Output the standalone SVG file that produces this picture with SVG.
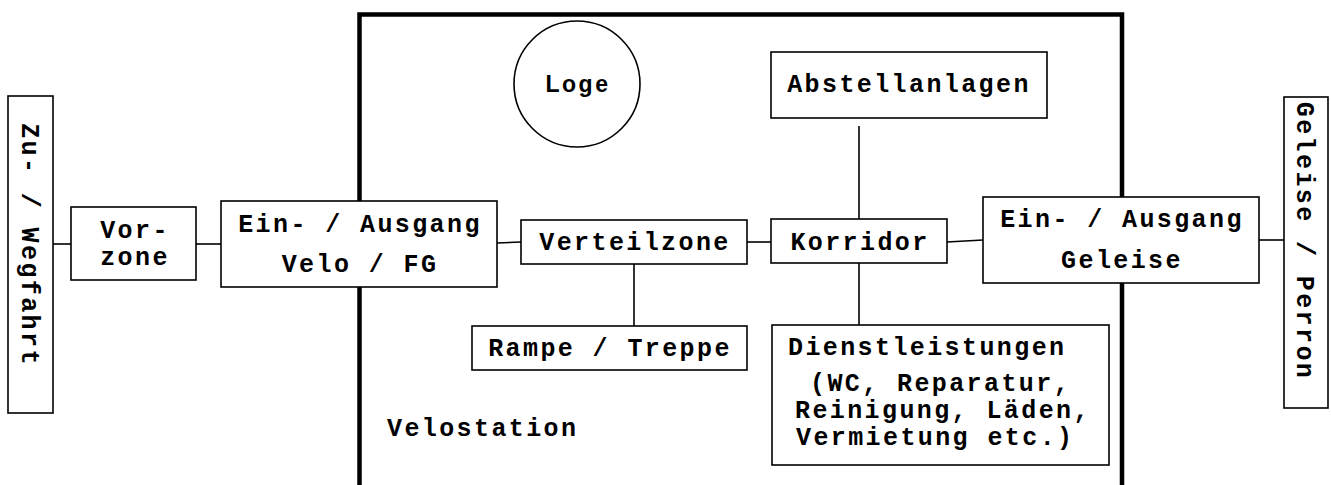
<svg xmlns="http://www.w3.org/2000/svg" width="1331" height="485" viewBox="0 0 1331 485">
<style>
.box{fill:#fff;stroke:#000;stroke-width:1.6}
.ln{fill:none;stroke:#000;stroke-width:1.6}
.t{font-family:"Liberation Mono","DejaVu Sans Mono",monospace;font-weight:bold;font-size:25px;letter-spacing:2.4px;fill:#000}
.c{text-anchor:middle}
</style>
<rect width="1331" height="485" fill="#fff"/>
<g id="frame">
<path d="M359.5,485 V14.5 H1122 V485" fill="none" stroke="#000" stroke-width="4.5"/>
</g>
<g id="connectors">
<line class="ln" x1="53" y1="244" x2="71" y2="244"/>
<line class="ln" x1="196" y1="244" x2="221" y2="244"/>
<line class="ln" x1="497" y1="243" x2="521" y2="242"/>
<line class="ln" x1="747" y1="242" x2="771" y2="242"/>
<line class="ln" x1="947" y1="242" x2="983" y2="240"/>
<line class="ln" x1="1259" y1="240" x2="1284" y2="240"/>
<line class="ln" x1="634" y1="264" x2="634" y2="326"/>
<line class="ln" x1="859" y1="126" x2="859" y2="219"/>
<line class="ln" x1="859" y1="263" x2="859" y2="325"/>
</g>
<g id="zuwegfahrt">
<rect class="box" x="8" y="96" width="45" height="317"/>
<text class="t c" transform="translate(22,245) rotate(90)">Zu- / Wegfahrt</text>
</g>
<g id="vorzone">
<rect class="box" x="71" y="207" width="125" height="73"/>
<text class="t c" x="135" y="238">Vor-</text>
<text class="t c" x="135" y="265">zone</text>
</g>
<g id="eingang-velo">
<rect class="box" x="221" y="201" width="276" height="86"/>
<text class="t c" x="360" y="232">Ein- / Ausgang</text>
<text class="t c" x="360" y="272">Velo / FG</text>
</g>
<g id="loge">
<circle cx="577" cy="84" r="63" fill="#fff" stroke="#000" stroke-width="1.6"/>
<text x="578" y="92" text-anchor="middle" font-family="Liberation Sans, Arial, sans-serif" font-weight="bold" font-size="23" letter-spacing="2.5">Loge</text>
</g>
<g id="verteilzone">
<rect class="box" x="521" y="220" width="226" height="44"/>
<text class="t c" x="635" y="250">Verteilzone</text>
</g>
<g id="rampe">
<rect class="box" x="472" y="326" width="275" height="44"/>
<text class="t c" x="610" y="356">Rampe / Treppe</text>
</g>
<g id="abstellanlagen">
<rect class="box" x="771" y="52" width="276" height="66"/>
<text class="t c" x="909" y="92">Abstellanlagen</text>
</g>
<g id="korridor">
<rect class="box" x="771" y="219" width="176" height="44"/>
<text class="t c" x="860" y="250">Korridor</text>
</g>
<g id="dienstleistungen">
<rect class="box" x="772" y="325" width="337" height="140"/>
<text class="t" x="788" y="355">Dienstleistungen</text>
<text class="t" x="810" y="391">(WC, Reparatur,</text>
<text class="t" x="795" y="418">Reinigung, Läden,</text>
<text class="t" x="796" y="445">Vermietung etc.)</text>
</g>
<g id="eingang-geleise">
<rect class="box" x="983" y="197" width="276" height="86"/>
<text class="t c" x="1122" y="227">Ein- / Ausgang</text>
<text class="t c" x="1122" y="268">Geleise</text>
</g>
<g id="geleise-perron">
<rect class="box" x="1284" y="97" width="44" height="311"/>
<text class="t c" transform="translate(1297,241) rotate(90)">Geleise / Perron</text>
</g>
<g id="velostation">
<text class="t" x="387" y="436">Velostation</text>
</g>
</svg>
